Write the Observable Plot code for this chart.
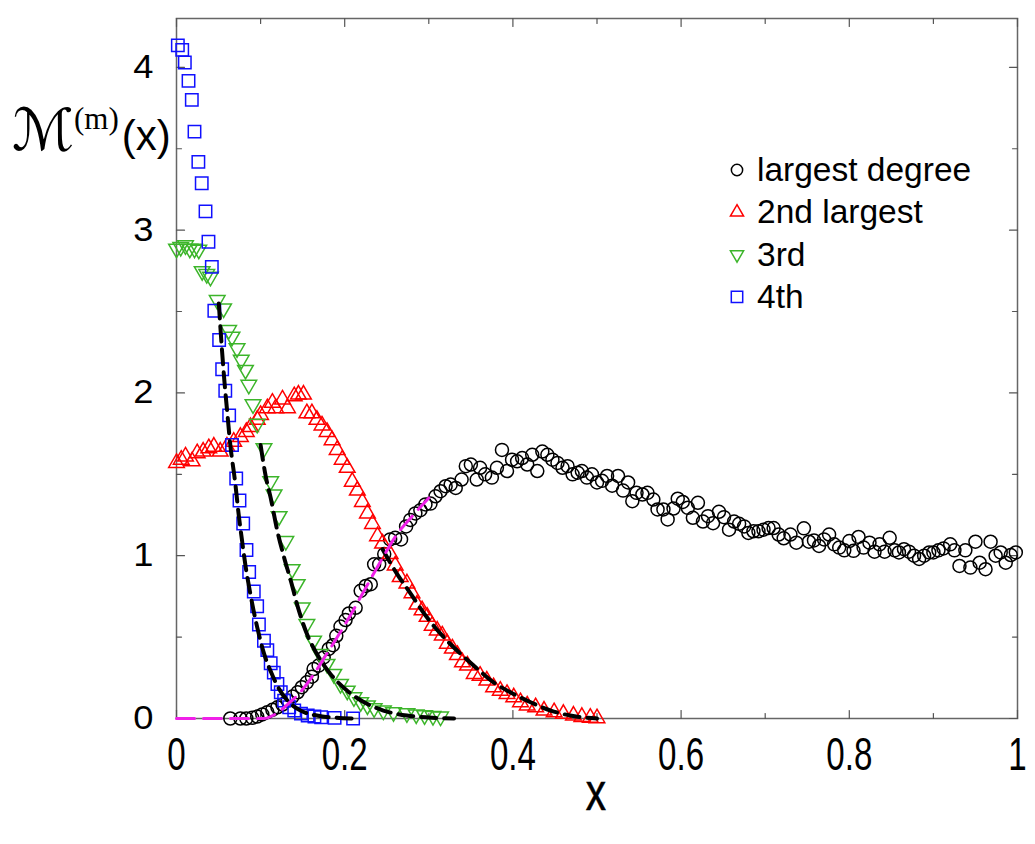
<!DOCTYPE html>
<html>
<head>
<meta charset="utf-8">
<script src="https://cdn.jsdelivr.net/npm/d3@7"></script>
<script src="https://cdn.jsdelivr.net/npm/@observablehq/plot@0.6"></script>
<style>
  body { margin: 0; background: #fff; }
  #chart { position: relative; width: 1035px; height: 844px; background: #fff; }
  #chart svg { display: block; }
  #overlay { position: absolute; left: 0; top: 0; pointer-events: none; }
</style>
</head>
<body>
<div id="chart"></div>
<script>
// ---- axis ticks and labels ----
const xMajor = [0, 0.2, 0.4, 0.6, 0.8, 1];
const xMinor = [0.1, 0.3, 0.5, 0.7, 0.9];
const yMajor = [0, 1, 2, 3, 4];
const yMinor = [0.5, 1.5, 2.5, 3.5];
const xTickLabels = ["0", "0.2", "0.4", "0.6", "0.8", "1"];
const yTickLabels = ["0", "1", "2", "3", "4"];
const seriesNames = ["largest degree", "2nd largest", "3rd", "4th"];

// ---- largest degree (circles) ----
const largestX = [0.064,0.076,0.083,0.09,0.096,0.102,0.108,0.114,0.12,0.126,0.132,0.138,0.144,0.149,0.155,0.161,0.163,0.169,0.175,0.181,0.186,0.19,0.195,0.201,0.205,0.213,0.219,0.225,0.231,0.235,0.241,0.247,0.254,0.26,0.267,0.273,0.278,0.284,0.29,0.296,0.302,0.308,0.314,0.32,0.326,0.332,0.339,0.344,0.35,0.357,0.361,0.367,0.375,0.381,0.387,0.393,0.399,0.405,0.411,0.417,0.423,0.429,0.435,0.441,0.447,0.453,0.459,0.465,0.471,0.477,0.482,0.488,0.494,0.5,0.506,0.512,0.518,0.525,0.531,0.537,0.542,0.547,0.554,0.56,0.567,0.572,0.579,0.584,0.591,0.596,0.602,0.608,0.614,0.62,0.626,0.632,0.638,0.645,0.651,0.657,0.663,0.669,0.675,0.68,0.686,0.692,0.698,0.704,0.71,0.716,0.722,0.73,0.737,0.746,0.752,0.758,0.764,0.77,0.776,0.782,0.788,0.794,0.8,0.805,0.811,0.817,0.824,0.83,0.836,0.842,0.848,0.854,0.859,0.865,0.871,0.877,0.883,0.889,0.895,0.9,0.906,0.912,0.92,0.925,0.931,0.938,0.944,0.95,0.955,0.962,0.968,0.974,0.98,0.986,0.992,0.998];
const largestY = [0,0,0,0.004,0.012,0.025,0.039,0.053,0.069,0.086,0.11,0.135,0.161,0.192,0.222,0.257,0.304,0.325,0.375,0.427,0.45,0.508,0.565,0.605,0.645,0.68,0.784,0.814,0.825,0.947,0.947,1.01,1.1,1.11,1.1,1.18,1.22,1.26,1.28,1.315,1.32,1.365,1.396,1.427,1.437,1.416,1.468,1.55,1.56,1.468,1.54,1.5,1.48,1.54,1.65,1.52,1.59,1.58,1.6,1.56,1.62,1.52,1.64,1.62,1.59,1.57,1.54,1.55,1.5,1.51,1.52,1.48,1.5,1.45,1.46,1.49,1.43,1.49,1.4,1.45,1.335,1.386,1.376,1.386,1.345,1.284,1.284,1.223,1.29,1.35,1.33,1.294,1.233,1.325,1.21,1.243,1.2,1.27,1.237,1.16,1.21,1.196,1.18,1.14,1.15,1.15,1.16,1.17,1.17,1.13,1.107,1.13,1.08,1.168,1.086,1.094,1.06,1.1,1.13,1.07,1.05,1.033,1.09,1.03,1.115,1.05,1.08,1.025,1.07,1.025,1.11,1.033,1.02,1.04,1.025,1.0,0.98,1.0,1.02,1.02,1.033,1.045,1.07,1.033,0.937,1.033,0.927,1.086,0.957,0.917,1.086,1.0,1.02,0.957,1.004,1.02];

// ---- 2nd largest (up triangles) ----
const secondX = [0,0.0056,0.0107,0.0186,0.0246,0.0317,0.0384,0.0444,0.052,0.06,0.068,0.076,0.083,0.088,0.096,0.1,0.108,0.114,0.118,0.126,0.132,0.14,0.145,0.151,0.155,0.161,0.167,0.173,0.179,0.185,0.191,0.197,0.203,0.209,0.215,0.221,0.227,0.233,0.239,0.245,0.254,0.26,0.266,0.274,0.28,0.286,0.292,0.298,0.304,0.31,0.316,0.322,0.328,0.334,0.34,0.346,0.354,0.361,0.369,0.377,0.385,0.393,0.401,0.409,0.417,0.427,0.437,0.449,0.46,0.472,0.482,0.492,0.5];
const secondY = [1.57,1.59,1.61,1.58,1.63,1.64,1.66,1.67,1.64,1.67,1.7,1.73,1.76,1.79,1.835,1.865,1.906,1.94,1.906,1.96,1.906,1.98,1.99,1.99,1.875,1.875,1.835,1.8,1.76,1.71,1.65,1.59,1.54,1.455,1.4,1.33,1.26,1.195,1.12,1.075,1.01,0.94,0.87,0.83,0.77,0.7,0.665,0.625,0.57,0.54,0.51,0.46,0.43,0.39,0.345,0.325,0.274,0.263,0.233,0.192,0.171,0.151,0.13,0.1,0.08,0.069,0.049,0.039,0.029,0.018,0.01,0.005,0.002];

// ---- 3rd (down triangles) ----
const thirdX = [0,0.005,0.0107,0.0158,0.0214,0.0265,0.0305,0.036,0.0404,0.0484,0.056,0.062,0.066,0.072,0.077,0.082,0.086,0.091,0.096,0.104,0.112,0.116,0.122,0.13,0.1375,0.1435,0.1495,0.155,0.163,0.171,0.179,0.187,0.195,0.203,0.211,0.219,0.227,0.235,0.246,0.258,0.274,0.285,0.295,0.305,0.314];
const thirdY = [2.886,2.897,2.907,2.886,2.886,2.88,2.748,2.73,2.713,2.57,2.519,2.386,2.345,2.274,2.203,2.141,2.05,1.93,1.81,1.66,1.457,1.376,1.243,1.09,0.917,0.825,0.682,0.58,0.478,0.396,0.335,0.274,0.212,0.171,0.13,0.1,0.08,0.063,0.049,0.039,0.032,0.025,0.02,0.015,0.012];

// ---- 4th (squares) ----
const fourthX = [0.0016,0.0068,0.0099,0.0143,0.0182,0.0214,0.026,0.03,0.0345,0.038,0.042,0.045,0.0507,0.0543,0.058,0.0626,0.066,0.071,0.0749,0.0793,0.0832,0.0864,0.0919,0.0959,0.098,0.104,0.108,0.112,0.1157,0.12,0.124,0.128,0.134,0.14,0.148,0.156,0.164,0.172,0.188,0.21];
const fourthY = [4.135,4.107,4.03,3.917,3.8,3.605,3.419,3.288,3.115,2.929,2.774,2.505,2.325,2.145,2.013,1.862,1.68,1.474,1.339,1.198,1.035,0.9,0.78,0.69,0.577,0.478,0.42,0.339,0.282,0.212,0.161,0.11,0.069,0.049,0.03,0.018,0.012,0.008,0.004,0.0];

// ---- fitted curves ----
const fit1X = [0,0.104,0.115,0.124,0.135,0.147,0.159,0.179,0.203,0.223,0.243,0.262,0.282,0.3];
const fit1Y = [0,0,0.02,0.05,0.1,0.16,0.24,0.4,0.6,0.784,0.968,1.13,1.253,1.355];
const fit2X = [0.245,0.262,0.278,0.298,0.318,0.338,0.358,0.377,0.397,0.421,0.445,0.468,0.5];
const fit2Y = [1.04,0.89,0.77,0.62,0.498,0.396,0.304,0.222,0.161,0.1,0.049,0.018,0];
const fit3X = [0.1,0.106,0.112,0.12,0.128,0.136,0.144,0.155,0.167,0.183,0.203,0.223,0.246,0.274,0.3,0.33];
const fit3Y = [1.68,1.49,1.355,1.15,0.988,0.845,0.69,0.52,0.396,0.274,0.171,0.1,0.049,0.018,0.006,0];
const fit4X = [0.0503,0.054,0.057,0.06,0.064,0.07,0.074,0.078,0.082,0.088,0.096,0.104,0.112,0.12,0.132,0.147,0.167,0.19,0.21];
const fit4Y = [2.55,2.27,2.07,1.9,1.68,1.44,1.25,1.09,0.94,0.76,0.56,0.4,0.29,0.2,0.11,0.05,0.018,0.005,0];

const rows = (xs, ys) => xs.map((x, i) => ({x, y: ys[i]}));

const colors = {largest: "#000000", second: "#ff0000", third: "#3cb52a", fourth: "#1010ff", fit1: "#f020e8"};

// inward tick shape for the frame
const tickShape = {draw(ctx, l) { ctx.moveTo(0, 0); ctx.lineTo(0, -l); }};
const tickOpts = {anchor: "start", shape: tickShape, stroke: "#555", strokeWidth: 1.2};
const edgeTicks = (vals, axis, len) => {
  if (axis === "x") return [
    Plot.vector(vals, {...tickOpts, x: d => d, y: () => 0, length: len, rotate: 0}),
    Plot.vector(vals, {...tickOpts, x: d => d, y: () => 4.3, length: len, rotate: 180})
  ];
  return [
    Plot.vector(vals, {...tickOpts, x: () => 0, y: d => d, length: len, rotate: 90}),
    Plot.vector(vals, {...tickOpts, x: () => 1, y: d => d, length: len, rotate: -90})
  ];
};

const dotBase = {x: "x", y: "y", fill: "none", strokeWidth: 1.5};
const dashLine = {x: "x", y: "y", stroke: "black", strokeWidth: 4, strokeDasharray: "15,8", curve: "monotone-x"};

const chart = Plot.plot({
  width: 1035,
  height: 844,
  marginLeft: 176,
  marginRight: 18,
  marginTop: 18,
  marginBottom: 126,
  x: {domain: [0, 1]},
  y: {domain: [0, 4.3]},
  style: {fontFamily: "'Liberation Sans', Arial, sans-serif", background: "#fff", color: "#000"},
  marks: [
    Plot.frame({stroke: "#666", strokeWidth: 1.5}),
    ...edgeTicks(xMajor, "x", 8),
    ...edgeTicks(xMinor, "x", 5),
    ...edgeTicks(yMajor, "y", 8),
    ...edgeTicks(yMinor, "y", 5),
    Plot.axisX(xMajor, {anchor: "bottom", tickSize: 0, tickPadding: 19, fontSize: 46, label: null,
      stroke: "#000", strokeWidth: 0.7,
      tickFormat: d => xTickLabels[xMajor.indexOf(d)]}),
    Plot.axisY(yMajor, {anchor: "left", tickSize: 0, tickPadding: 23, fontSize: 33, label: null,
      stroke: "#000", strokeWidth: 0.5,
      tickFormat: d => yTickLabels[yMajor.indexOf(d)]}),
    Plot.dot(rows(largestX, largestY), {...dotBase, symbol: "circle", r: 6.5, stroke: colors.largest}),
    Plot.dot(rows(secondX, secondY), {...dotBase, symbol: "triangle", r: 5.8, stroke: colors.second}),
    Plot.dot(rows(thirdX, thirdY), {...dotBase, symbol: "triangle", r: 5.8, rotate: 180, stroke: colors.third}),
    Plot.dot(rows(fourthX, fourthY), {...dotBase, symbol: "square", r: 7, stroke: colors.fourth}),
    Plot.line(rows(fit4X, fit4Y), dashLine),
    Plot.line(rows(fit3X, fit3Y), dashLine),
    Plot.line(rows(fit2X, fit2Y), dashLine),
    Plot.line(rows(fit1X, fit1Y), {x: "x", y: "y", stroke: colors.fit1, strokeWidth: 3, strokeDasharray: "18,9", curve: "monotone-x"})
  ]
});

// condense the x tick labels, widen the y tick labels slightly
function rescale(sel, sx, sy) {
  d3.select(chart).selectAll(sel).each(function () {
    const t = this.getAttribute("transform") || "";
    this.setAttribute("transform", `${t} scale(${sx},${sy})`);
  });
}
rescale('g[aria-label="x-axis tick label"] text', 0.72, 1);
rescale('g[aria-label="y-axis tick label"] text', 1.1, 1);

const host = document.getElementById("chart");
host.appendChild(chart);

// y-axis title, x-axis title and legend
const ov = d3.select(host).append("svg").attr("id", "overlay").attr("width", 1035).attr("height", 844);

const yt = ov.append("text").attr("x", 12).attr("y", 150).attr("fill", "#000");
yt.append("tspan").attr("font-family", "'DejaVu Sans', serif").attr("font-size", 58).text("\u2133");
yt.append("tspan").attr("font-family", "'Liberation Serif', 'DejaVu Serif', serif").attr("font-size", 31).attr("dy", -21).attr("dx", 0).text("(m)");
yt.append("tspan").attr("font-family", "'Liberation Sans', Arial, sans-serif").attr("font-size", 42).attr("dy", 21).attr("dx", 3).text("(x)");

ov.append("text").attr("x", 596).attr("y", 810).attr("text-anchor", "middle")
  .attr("font-family", "'Liberation Sans', Arial, sans-serif").attr("font-size", 54)
  .attr("stroke", "#000").attr("stroke-width", 0.6)
  .attr("transform", "translate(596,0) scale(0.75,1) translate(-596,0)").text("x");

const legendRows = [
  {sym: d3.symbolCircle, rot: 0, color: colors.largest},
  {sym: d3.symbolTriangle, rot: 0, color: colors.second},
  {sym: d3.symbolTriangle, rot: 180, color: colors.third},
  {sym: d3.symbolSquare, rot: 0, color: colors.fourth}
];
legendRows.forEach((r, i) => {
  const cy = 170 + i * 42.3;
  ov.append("path")
    .attr("d", d3.symbol(r.sym, r.sym === d3.symbolCircle ? 100 : r.sym === d3.symbolSquare ? 130 : 75)())
    .attr("transform", `translate(737,${cy}) rotate(${r.rot})`)
    .attr("fill", "none").attr("stroke", r.color).attr("stroke-width", 1.5);
  ov.append("text").attr("x", 757).attr("y", cy + 11)
    .attr("font-family", "'Liberation Sans', Arial, sans-serif").attr("font-size", 33.5)
    .attr("fill", "#000").text(seriesNames[i]);
});
</script>
</body>
</html>
